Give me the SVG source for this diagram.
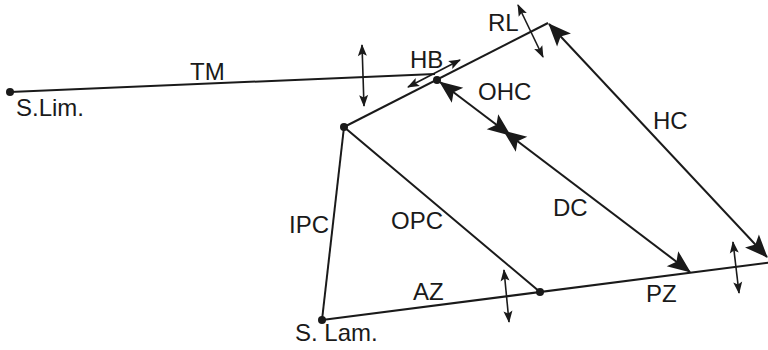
<svg xmlns="http://www.w3.org/2000/svg" width="768" height="350" viewBox="0 0 768 350">
<style>
.ln{stroke:#1a1a1a;stroke-width:2;fill:none}
.big{marker-start:url(#bigHead);marker-end:url(#bigHead)}
.sm{stroke-width:1.6;marker-start:url(#smHead);marker-end:url(#smHead)}
.dot{fill:#1a1a1a}
text{font-family:"Liberation Sans",Arial,sans-serif;font-size:24px;fill:#1a1a1a}
</style>
<defs>
<marker id="bigHead" markerUnits="userSpaceOnUse" viewBox="-25 -11 27 22" markerWidth="27" markerHeight="22" refX="0" refY="0" orient="auto-start-reverse">
<path d="M1,0 L-22,-9.5 L-17,0 L-22,9.5 Z" fill="#1a1a1a"/>
</marker>
<marker id="smHead" markerUnits="userSpaceOnUse" viewBox="-13 -6 14 12" markerWidth="14" markerHeight="12" refX="0" refY="0" orient="auto-start-reverse">
<path d="M1,0 L-11,-4.5 L-8.5,0 L-11,4.5 Z" fill="#1a1a1a"/>
</marker>
</defs>
<rect width="768" height="350" fill="#ffffff"/>
<g id="connectors">
<line id="TM" class="ln" x1="10" y1="92" x2="435" y2="74"/>
<polyline id="RL-line" class="ln" points="344,127 548,23"/>
<line id="IPC" class="ln" x1="344" y1="127" x2="322" y2="320"/>
<line id="OPC" class="ln" x1="344" y1="127" x2="540" y2="292"/>
<line id="BM" class="ln" x1="322" y1="320" x2="770" y2="262.5"/>
<line id="HC" class="ln big" x1="549" y1="24" x2="767" y2="257"/>
<line id="OHC" class="ln big" x1="440" y1="82" x2="510" y2="135"/>
<line id="DC" class="ln big" x1="504" y1="131" x2="690" y2="272"/>
<line id="TM-arrow" class="ln sm" x1="362" y1="45" x2="364" y2="106"/>
<line id="HB-arrow" class="ln sm" x1="408" y1="87" x2="460" y2="60"/>
<line id="RL-arrow" class="ln sm" x1="518" y1="5" x2="543" y2="57"/>
<line id="AZ-arrow" class="ln sm" x1="504" y1="270" x2="509" y2="322"/>
<line id="PZ-arrow" class="ln sm" x1="733" y1="242" x2="739" y2="293"/>
</g>
<g id="node-slim"><circle class="dot" cx="10" cy="92" r="4"/><text x="16" y="116">S.Lim.</text></g>
<g id="node-slam"><circle class="dot" cx="322" cy="320" r="4"/><text x="295" y="341">S. Lam.</text></g>
<g id="node-ipc-top"><circle class="dot" cx="344" cy="127" r="4"/></g>
<g id="node-hb"><circle class="dot" cx="437" cy="80" r="4"/></g>
<g id="node-opc-foot"><circle class="dot" cx="540" cy="292" r="4"/></g>
<g id="labels">
<text x="190" y="80">TM</text>
<text x="410" y="68">HB</text>
<text x="488" y="31">RL</text>
<text x="478" y="100">OHC</text>
<text x="653" y="129">HC</text>
<text x="289" y="233">IPC</text>
<text x="391" y="229">OPC</text>
<text x="553" y="216">DC</text>
<text x="413" y="300">AZ</text>
<text x="646" y="302">PZ</text>
</g>
</svg>
